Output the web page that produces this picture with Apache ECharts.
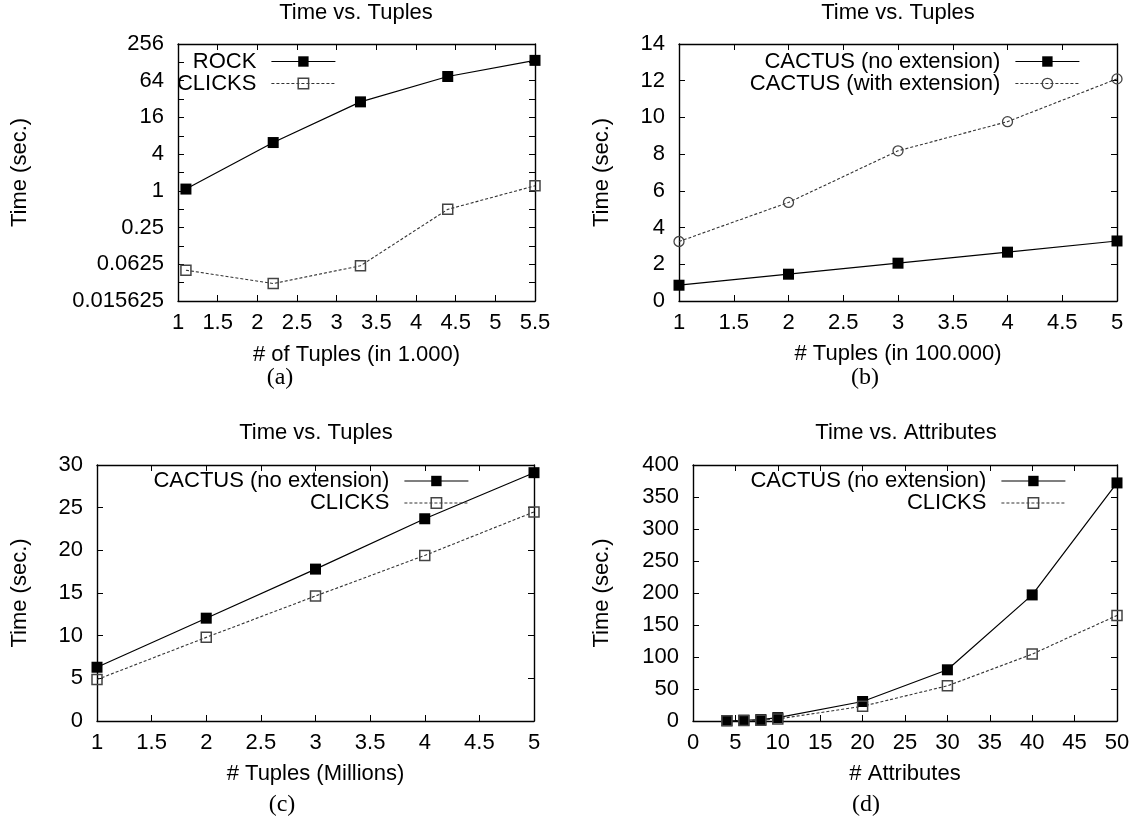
<!DOCTYPE html>
<html><head><meta charset="utf-8">
<script src="https://cdn.jsdelivr.net/npm/echarts@6/dist/echarts.min.js"></script>
<style>html,body{margin:0;padding:0;background:#fff}#c{width:1135px;height:819px}</style>
</head><body><div id="c"></div>
<script>
// ---------------- data ----------------
const aX = [1.1, 2.2, 3.3, 4.4, 5.5];
const aRock = [1.07, 6.2, 28.8, 75, 138];
const aClicks = [0.05, 0.0302, 0.059, 0.497, 1.21];
const aYTickValues = [0.015625, 0.0625, 0.25, 1, 4, 16, 64, 256];

const bX = [1, 2, 3, 4, 5];
const bNoExt = [0.86, 1.46, 2.06, 2.66, 3.27];
const bWithExt = [3.24, 5.37, 8.18, 9.77, 12.1];

const cX = [1, 2, 3, 4, 5];
const cCactus = [6.3, 12.05, 17.8, 23.7, 29.1];
const cClicks = [4.86, 9.8, 14.65, 19.4, 24.5];

const dX = [4, 6, 8, 10, 20, 30, 40, 50];
const dCactus = [0.5, 1.2, 2.2, 5.3, 30.5, 80, 197, 372];
const dClicks = [0.3, 0.6, 1.2, 3.2, 23, 55, 104.5, 165];

const titles = ['Time vs. Tuples', 'Time vs. Tuples', 'Time vs. Tuples', 'Time vs. Attributes'];
const subLabels = ['(a)', '(b)', '(c)', '(d)'];
const xNames = ['# of Tuples (in 1.000)', '# Tuples (in 100.000)', '# Tuples (Millions)', '# Attributes'];
const yName = 'Time (sec.)';
const names = {
  rock: 'ROCK', clicks: 'CLICKS',
  noExt: 'CACTUS (no extension)', withExt: 'CACTUS (with extension)'
};

// ---------------- styles ----------------
const FONT = "'Liberation Sans', Arial, Helvetica, sans-serif";
const SERIF = "'Liberation Serif', 'Times New Roman', serif";
const FS = 22;
const txt = {fontFamily: FONT, fontSize: FS, color: '#000'};

const grids = [
  {left: 178, top: 44, width: 357, height: 257},
  {left: 679, top: 44, width: 438, height: 257},
  {left: 97, top: 465, width: 437, height: 256},
  {left: 693, top: 465, width: 424, height: 256}
];

function axisBase(gi) {
  return {
    gridIndex: gi,
    axisLine: {show: true, onZero: false, lineStyle: {color: '#000', width: 1.4}},
    axisTick: {show: true, inside: true, length: 6, lineStyle: {color: '#000', width: 1}},
    splitLine: {show: false},
    minorTick: {show: false}
  };
}
function xAxesFor(gi, min, max, interval, name, nameGap) {
  const b = Object.assign(axisBase(gi), {type: 'value', min, max, interval});
  return [
    Object.assign({}, b, {position: 'bottom', name, nameLocation: 'middle', nameGap,
      nameTextStyle: txt, axisLabel: Object.assign({margin: 11, showMinLabel: true, showMaxLabel: true}, txt)}),
    Object.assign({}, b, {position: 'top', axisLabel: {show: false}})
  ];
}
function yAxesFor(gi, spec, nameGap) {
  const b = Object.assign(axisBase(gi), spec);
  const lab = Object.assign({margin: 14, showMinLabel: true, showMaxLabel: true}, txt);
  if (spec.type === 'log') {
    lab.formatter = v => {
      const hit = aYTickValues.find(t => Math.abs(t - v) / t < 1e-6);
      return hit === undefined ? '' : String(hit);
    };
  }
  return [
    Object.assign({}, b, {position: 'left', name: yName, nameLocation: 'middle', nameGap,
      nameRotate: 90, nameTextStyle: txt, axisLabel: lab}),
    Object.assign({}, b, {position: 'right', axisLabel: {show: false}})
  ];
}

const solid = {
  symbol: 'rect', symbolSize: 11,
  itemStyle: {color: '#000', borderColor: '#000', borderWidth: 0},
  lineStyle: {color: '#000', width: 1.2, type: 'solid'}
};
const dashedSquare = {
  symbol: 'rect', symbolSize: 10,
  itemStyle: {color: 'rgba(255,255,255,0)', borderColor: '#444', borderWidth: 1.5},
  lineStyle: {color: '#333', width: 1.1, type: [3, 2]}
};
const dashedCircle = {
  symbol: 'circle', symbolSize: 10,
  itemStyle: {color: 'rgba(255,255,255,0)', borderColor: '#444', borderWidth: 1.3},
  lineStyle: {color: '#333', width: 1.1, type: [3, 2]}
};

function pairs(xs, ys) { return xs.map((x, i) => [x, ys[i]]); }
function mkSeries(name, xi, yi, xs, ys, sty) {
  return Object.assign({
    type: 'line', name, xAxisIndex: xi, yAxisIndex: yi,
    data: pairs(xs, ys), silent: true, emphasis: {disabled: true},
    animation: false, z: 3
  }, JSON.parse(JSON.stringify(sty)));
}
function legItem(name, sty) {
  return {name, itemStyle: sty.itemStyle, lineStyle: sty.lineStyle};
}
function mkLegend(items, right, top) {
  return {
    data: items, orient: 'vertical', align: 'right', right, top,
    itemWidth: 64, itemHeight: 13, itemGap: 0, padding: 0, selectedMode: false,
    textStyle: {fontFamily: FONT, fontSize: FS, color: '#000', lineHeight: 21, padding: [0, 10, 0, 0]}
  };
}

const xAxis = [].concat(
  xAxesFor(0, 1, 5.5, 0.5, xNames[0], 43),
  xAxesFor(1, 1, 5, 0.5, xNames[1], 42),
  xAxesFor(2, 1, 5, 0.5, xNames[2], 42),
  xAxesFor(3, 0, 50, 5, xNames[3], 42)
);
const yAxis = [].concat(
  yAxesFor(0, {type: 'log', logBase: 2, min: aYTickValues[0], max: aYTickValues[aYTickValues.length - 1], interval: 1}, 147),
  yAxesFor(1, {type: 'value', min: 0, max: 14, interval: 2}, 66),
  yAxesFor(2, {type: 'value', min: 0, max: 30, interval: 5}, 66),
  yAxesFor(3, {type: 'value', min: 0, max: 400, interval: 50}, 80)
);

const series = [
  mkSeries(names.rock, 0, 0, aX, aRock, solid),
  mkSeries(names.clicks, 0, 0, aX, aClicks, dashedSquare),
  mkSeries(names.noExt, 2, 2, bX, bNoExt, solid),
  mkSeries(names.withExt, 2, 2, bX, bWithExt, dashedCircle),
  mkSeries(names.noExt, 4, 4, cX, cCactus, solid),
  mkSeries(names.clicks, 4, 4, cX, cClicks, dashedSquare),
  mkSeries(names.noExt, 6, 6, dX, dCactus, solid),
  mkSeries(names.clicks, 6, 6, dX, dClicks, dashedSquare)
];

const legend = [
  mkLegend([legItem(names.rock, solid), legItem(names.clicks, dashedSquare)], 1135 - 336, 50.5),
  mkLegend([legItem(names.noExt, solid), legItem(names.withExt, dashedCircle)], 1135 - 1080, 50.5),
  mkLegend([legItem(names.noExt, solid), legItem(names.clicks, dashedSquare)], 1135 - 469, 470),
  mkLegend([legItem(names.noExt, solid), legItem(names.clicks, dashedSquare)], 1135 - 1066, 470)
];

const titlePos = [[356, 13], [898, 13], [316, 433], [906, 433]];
const subPos = [[280, 378], [865, 378], [282, 805], [866, 805]];
const graphic = [];
titles.forEach((t, i) => graphic.push({
  type: 'text', x: titlePos[i][0], y: titlePos[i][1], silent: true,
  style: {text: t, font: FS + 'px ' + FONT, fill: '#000', align: 'center', verticalAlign: 'middle',
          textAlign: 'center', textVerticalAlign: 'middle'}
}));
subLabels.forEach((t, i) => graphic.push({
  type: 'text', x: subPos[i][0], y: subPos[i][1], silent: true,
  style: {text: t, font: '24px ' + SERIF, fill: '#000', align: 'center', verticalAlign: 'middle',
          textAlign: 'center', textVerticalAlign: 'middle'}
}));

const chart = echarts.init(document.getElementById('c'), null, {renderer: 'canvas'});
chart.setOption({
  animation: false,
  backgroundColor: '#fff',
  grid: grids.map(g => Object.assign({containLabel: false, show: false}, g)),
  xAxis, yAxis, series, legend, graphic
});
</script></body></html>
